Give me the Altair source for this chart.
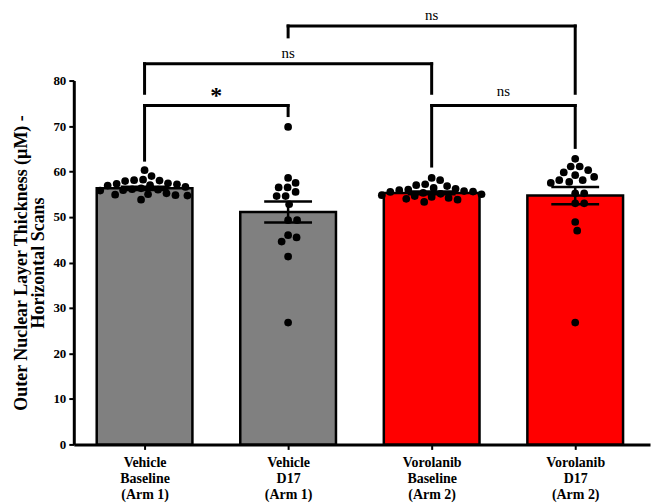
import altair as alt
import pandas as pd

# ---------------- data ----------------
categories = [
    "Vehicle|Baseline|(Arm 1)",
    "Vehicle|D17|(Arm 1)",
    "Vorolanib|Baseline|(Arm 2)",
    "Vorolanib|D17|(Arm 2)",
]
bar_colors = ["#808080", "#808080", "#FF0000", "#FF0000"]
means = [56.3, 51.1, 55.3, 54.7]
sems = [0.35, 2.3, 0.3, 1.9]

vehicle_baseline = [60.3, 59.0, 58.2, 58.0, 58.1, 57.9, 57.4, 57.2, 57.0, 57.3, 56.9,
                    56.6, 56.3, 56.0, 55.8, 56.1, 55.9, 55.2, 54.8, 54.9, 54.7, 55.0, 53.8]
vehicle_d17 = [69.8, 58.6, 57.5, 56.5, 56.5, 55.5, 54.6, 54.6, 52.8, 49.3, 49.3,
               46.0, 45.5, 44.6, 41.3, 26.8]
vorolanib_baseline = [58.6, 58.1, 57.2, 57.0, 56.8, 56.4, 56.2, 56.0, 55.9, 55.7, 55.6,
                      55.5, 55.3, 55.1, 55.0, 54.8, 54.6, 54.4, 54.2, 54.0, 53.8, 53.3]
vorolanib_d17 = [62.8, 61.1, 61.1, 60.3, 59.8, 59.2, 58.8, 58.1, 57.7, 57.5, 58.1,
                 55.2, 55.2, 53.0, 53.0, 48.9, 47.0, 26.8]
groups = [vehicle_baseline, vehicle_d17, vorolanib_baseline, vorolanib_d17]

# significance brackets: left group, right group, bar height, left drop end, right drop end
br_left = [1, 0, 0, 2]
br_right = [3, 2, 1, 3]
br_height = [92.0, 83.7, 74.5, 74.5]
br_left_end = [89.6, 77.2, 62.5, 61.2]
br_right_end = [77.2, 77.2, 72.3, 65.3]
br_label = ["ns", "ns", "*", "ns"]
br_label_y = [94.5, 86.1, 76.6, 77.6]

# ---------------- layout helpers ----------------
W, H = 578, 365
X_DOMAIN = [-0.493, 3.521]
Y_DOMAIN = [0, 80]
px_x = W / (X_DOMAIN[1] - X_DOMAIN[0])
px_y = H / (Y_DOMAIN[1] - Y_DOMAIN[0])
BAR_HALF = 48 / px_x
CAP_HALF = 24 / px_x
DOT_D = 8.8


def swarm(vals):
    placed = []
    offs = [0.0] * len(vals)
    order = sorted(range(len(vals)), key=lambda i: -vals[i])
    for i in order:
        y = vals[i] * px_y
        best = None
        k = 0
        while best is None:
            cands = [0.0] if k == 0 else [k * 0.5, -k * 0.5]
            for c in cands:
                if all((c - px) ** 2 + (y - py) ** 2 >= DOT_D ** 2 for px, py in placed):
                    best = c
                    break
            k += 1
        placed.append((best, y))
        offs[i] = best
    return offs


bars_df = pd.DataFrame({
    "idx": range(4),
    "x1": [i - BAR_HALF for i in range(4)],
    "x2": [i + BAR_HALF for i in range(4)],
    "mean": means,
    "zero": [0] * 4,
    "color": bar_colors,
    "lo": [m - s for m, s in zip(means, sems)],
    "hi": [m + s for m, s in zip(means, sems)],
    "c1": [i - CAP_HALF for i in range(4)],
    "c2": [i + CAP_HALF for i in range(4)],
})

dot_rows = []
for gi, vals in enumerate(groups):
    offs = swarm(vals)
    for v, o in zip(vals, offs):
        dot_rows.append({"x": gi + o / px_x, "v": v})
dots_df = pd.DataFrame(dot_rows)

seg_rows = []
for l, r, h, le, re_ in zip(br_left, br_right, br_height, br_left_end, br_right_end):
    seg_rows.append({"x": l, "x2": r, "y": h, "y2": h})
    seg_rows.append({"x": l, "x2": l, "y": h, "y2": le})
    seg_rows.append({"x": r, "x2": r, "y": h, "y2": re_})
seg_df = pd.DataFrame(seg_rows)

lab_df = pd.DataFrame({
    "x": [(l + r) / 2 for l, r in zip(br_left, br_right)],
    "y": br_label_y,
    "t": br_label,
})
ns_df = lab_df[lab_df["t"] == "ns"]
star_df = lab_df[lab_df["t"] == "*"]

label_array = "[" + ",".join("'" + c + "'" for c in categories) + "]"

xscale = alt.Scale(domain=X_DOMAIN, nice=False, zero=False)
yscale = alt.Scale(domain=Y_DOMAIN, nice=False)

xaxis = alt.Axis(
    values=[0, 1, 2, 3], title=None, grid=False,
    labelExpr="split(" + label_array + "[datum.value], '|')",
    labelFont="Liberation Serif", labelFontWeight="bold", labelFontSize=14,
    labelColor="black", labelLineHeight=16, labelPadding=6,
    domainColor="black", domainWidth=3, tickColor="black", tickWidth=2, tickSize=5,
)
yaxis = alt.Axis(
    values=list(range(0, 81, 10)), grid=False,
    title=["Outer Nuclear Layer Thickness (µM) -", "Horizontal Scans"],
    titleFont="Liberation Serif", titleFontWeight="bold", titleFontSize=18,
    titleColor="black", titleLineHeight=17, titlePadding=5,
    labelFont="Liberation Serif", labelFontWeight="bold", labelFontSize=13,
    labelColor="black", labelPadding=3,
    domainColor="black", domainWidth=3, tickColor="black", tickWidth=2, tickSize=5,
)

bars = alt.Chart(bars_df).mark_bar(stroke="black", strokeWidth=2.5).encode(
    x=alt.X("x1:Q", scale=xscale, axis=xaxis),
    x2="x2:Q",
    y=alt.Y("mean:Q", scale=yscale, axis=yaxis),
    y2="zero:Q",
    fill=alt.Fill("color:N", scale=None),
)

dots = alt.Chart(dots_df).mark_circle(color="black", opacity=1, size=60).encode(
    x="x:Q", y="v:Q"
)

err_v = alt.Chart(bars_df).mark_rule(color="black", strokeWidth=2.5).encode(
    x="idx:Q", y="lo:Q", y2="hi:Q"
)
cap_hi = alt.Chart(bars_df).mark_rule(color="black", strokeWidth=2.5).encode(
    x="c1:Q", x2="c2:Q", y="hi:Q"
)
cap_lo = alt.Chart(bars_df).mark_rule(color="black", strokeWidth=2.5).encode(
    x="c1:Q", x2="c2:Q", y="lo:Q"
)

segs = alt.Chart(seg_df).mark_rule(color="black", strokeWidth=3, strokeCap="square").encode(
    x="x:Q", x2="x2:Q", y="y:Q", y2="y2:Q"
)

ns_labels = alt.Chart(ns_df).mark_text(
    font="Liberation Serif", fontSize=15, color="black", baseline="middle", align="center"
).encode(x="x:Q", y="y:Q", text="t:N")

star_labels = alt.Chart(star_df).mark_text(
    font="Liberation Serif", fontSize=24, fontWeight="bold", color="black",
    baseline="middle", align="center"
).encode(x="x:Q", y="y:Q", text="t:N")

chart = alt.layer(bars, dots, err_v, cap_hi, cap_lo, segs, ns_labels, star_labels).properties(
    width=W, height=H,
    padding={"left": 66, "top": 72, "right": 1, "bottom": 58},
    autosize=alt.AutoSizeParams(type="none"),
).configure_view(stroke=None)

chart.save("out.html", embed_options={"renderer": "svg", "actions": False})
